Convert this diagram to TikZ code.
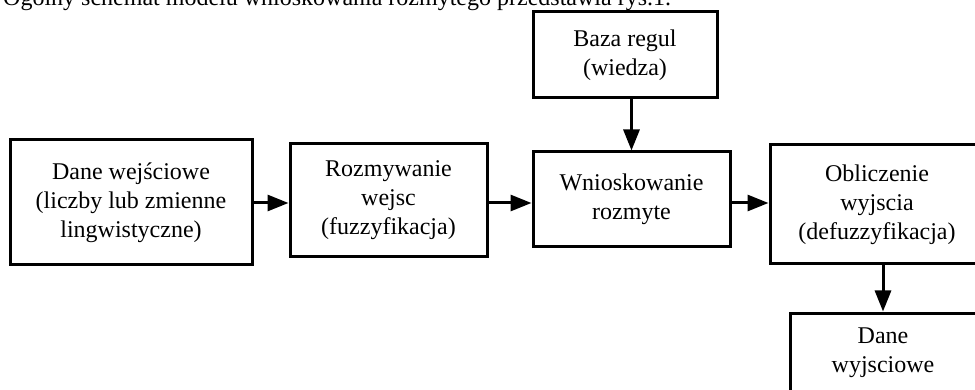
\documentclass[tikz,border=0pt]{standalone}
\usepackage{fontspec}
\setmainfont{Liberation Serif}
\usepackage{tikz}
\usetikzlibrary{arrows.meta, positioning}
\tikzset{blackbox/.style={rectangle, draw=black, line width=3pt, align=center, inner sep=0pt, font=\fontsize{24}{29}\selectfont},
flowarrow/.style={-{Triangle[length=21pt, width=16pt]}, line width=3pt}}

\begin{document}
\begin{tikzpicture}[x=1pt, y=-1pt, line join=miter]
        \clip (0, 0) rectangle (975, 390);
        % Caption text (cut by the page top)
        \node[anchor=base west, inner sep=0pt, font=\fontsize{24}{29}\selectfont] (caption) at (3, 6) {Ogólny schemat modelu wnioskowania rozmytego przedstawia rys.1.};
        % Boxes
        \node[blackbox, minimum width=242pt, minimum height=125pt] (wejscie) at (131, 202.5) {Dane wejściowe\\(liczby lub zmienne\\lingwistyczne)};
        \node[blackbox, minimum width=197pt, minimum height=113pt] (rozmywanie) at (388.5, 200.5) {Rozmywanie\\wejsc\\(fuzzyfikacja)};
        \node[blackbox, minimum width=197pt, minimum height=95pt] (wnioskowanie) at (631.5, 199.5) {Wnioskowanie\\rozmyte};
        \node[blackbox, minimum width=184pt, minimum height=86pt] (baza) at (625, 55) {Baza regul\\(wiedza)};
        \node[blackbox, minimum width=214pt, minimum height=119pt] (obliczenie) at (877, 204.5) {Obliczenie\\wyjscia\\(defuzzyfikacja)};
        \node[blackbox, minimum width=186pt, minimum height=80pt] (wyjscie) at (883, 353) {Dane\\wyjsciowe};
        % Arrows
        \draw[flowarrow] (wejscie.east |- 0, 203) -- (rozmywanie.west |- 0, 203);
        \draw[flowarrow] (rozmywanie.east |- 0, 203) -- (wnioskowanie.west |- 0, 203);
        \draw[flowarrow] (wnioskowanie.east |- 0, 203) -- (obliczenie.west |- 0, 203);
        \draw[flowarrow] (baza.south -| wnioskowanie.north) -- (wnioskowanie.north);
        \draw[flowarrow] (obliczenie.south -| wyjscie.north) -- (wyjscie.north);
\end{tikzpicture}
\end{document}
